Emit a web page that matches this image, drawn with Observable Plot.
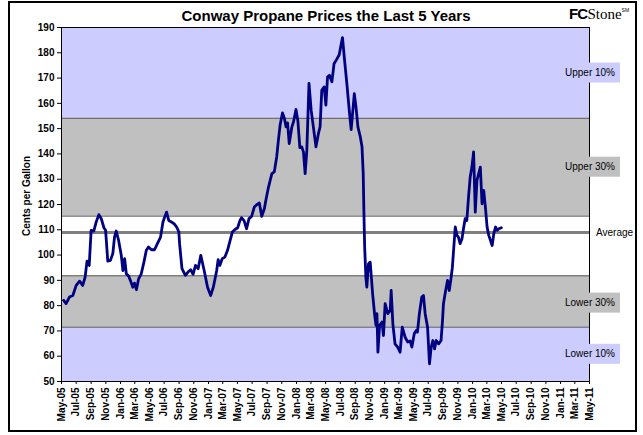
<!DOCTYPE html>
<html><head><meta charset="utf-8">
<script src="https://cdn.jsdelivr.net/npm/d3@7"></script>
<script src="https://cdn.jsdelivr.net/npm/@observablehq/plot@0.6"></script>
<style>
body{margin:0;background:#fff;}
#wrap{position:relative;width:643px;height:435px;font-family:"Liberation Sans",Arial,sans-serif;overflow:hidden;}
#border{position:absolute;left:8px;top:1px;width:629px;height:431px;border:2px solid #000;box-sizing:border-box;pointer-events:none;}
#title{position:absolute;left:326px;top:7px;transform:translateX(-50%);font-weight:bold;font-size:15px;white-space:nowrap;color:#000;}
#logo{position:absolute;left:569px;top:5px;white-space:nowrap;color:#000;font-size:15px;}
#logo .fc{font-family:"Liberation Sans",Arial,sans-serif;font-weight:bold;letter-spacing:-0.8px;}
#logo .st{font-family:"Liberation Serif","Times New Roman",serif;}
#logo sup{font-size:5px;font-family:"Liberation Sans",Arial,sans-serif;vertical-align:7px;}
#chart{position:absolute;left:0;top:0;}
</style>
</head><body>
<div id="wrap">
  <div id="chart"></div>
  <div id="title">Conway Propane Prices the Last 5 Years</div>
  <div id="logo"><span class="fc">FC</span><span class="st">Stone</span><sup>SM</sup></div>
  <div id="border"></div>
</div>
<script>
// ---- data ----
const dates = ["2005-05-10","2005-05-20","2005-06-03","2005-06-17","2005-07-01","2005-07-15","2005-07-28","2005-08-07","2005-08-15","2005-08-24",
"2005-09-01","2005-09-12","2005-09-22","2005-10-03","2005-10-13","2005-10-24","2005-10-31","2005-11-09","2005-11-20","2005-11-30",
"2005-12-07","2005-12-14","2005-12-24","2006-01-04","2006-01-11","2006-01-18","2006-01-25","2006-02-04","2006-02-12","2006-02-21",
"2006-02-28","2006-03-08","2006-03-17","2006-03-28","2006-04-08","2006-04-18","2006-04-27","2006-05-09","2006-05-22","2006-06-03",
"2006-06-16","2006-06-26","2006-07-03","2006-07-11","2006-07-20","2006-07-31","2006-08-11","2006-08-22","2006-08-31","2006-09-03",
"2006-09-13","2006-09-27","2006-10-08","2006-10-19","2006-10-29","2006-11-08","2006-11-19","2006-11-30","2006-12-14","2006-12-28",
"2007-01-10","2007-01-21","2007-02-04","2007-02-10","2007-02-17","2007-02-27","2007-03-10","2007-03-21","2007-03-31","2007-04-10",
"2007-04-21","2007-05-02","2007-05-11","2007-05-18","2007-05-29","2007-06-08","2007-06-18","2007-06-29","2007-07-10","2007-07-20",
"2007-07-31","2007-08-10","2007-08-21","2007-08-27","2007-09-07","2007-09-21","2007-10-01","2007-10-11","2007-10-18","2007-10-25",
"2007-11-04","2007-11-12","2007-11-19","2007-11-25","2007-12-02","2007-12-13","2007-12-20","2007-12-30","2008-01-07","2008-01-15",
"2008-01-23","2008-01-30","2008-02-06","2008-02-13","2008-02-22","2008-03-02","2008-03-12","2008-03-22","2008-04-01","2008-04-08",
"2008-04-15","2008-04-25","2008-05-02","2008-05-09","2008-05-17","2008-05-27","2008-06-05","2008-06-14","2008-06-26","2008-07-10",
"2008-07-18","2008-07-28","2008-08-07","2008-08-15","2008-08-28","2008-09-04","2008-09-12","2008-09-22","2008-09-29","2008-10-04",
"2008-10-07","2008-10-10","2008-10-15","2008-10-19","2008-10-26","2008-11-02","2008-11-12","2008-11-20","2008-11-26","2008-11-30",
"2008-12-04","2008-12-11","2008-12-21","2008-12-27","2009-01-03","2009-01-14","2009-01-24","2009-01-28","2009-02-04","2009-02-13",
"2009-02-24","2009-03-06","2009-03-15","2009-03-27","2009-04-07","2009-04-17","2009-04-24","2009-05-04","2009-05-12","2009-05-17",
"2009-05-25","2009-06-04","2009-06-11","2009-06-18","2009-06-28","2009-07-06","2009-07-13","2009-07-20","2009-07-27","2009-08-03",
"2009-08-13","2009-08-23","2009-08-29","2009-09-02","2009-09-10","2009-09-19","2009-09-26","2009-10-03","2009-10-09","2009-10-14",
"2009-10-21","2009-10-28","2009-11-03","2009-11-10","2009-11-18","2009-11-24","2009-12-01","2009-12-08","2009-12-15","2009-12-22",
"2009-12-29","2010-01-05","2010-01-12","2010-01-19","2010-01-26","2010-02-02","2010-02-09","2010-02-16","2010-02-23","2010-03-02",
"2010-03-09","2010-03-16","2010-03-23","2010-03-30","2010-04-06","2010-04-13","2010-04-20","2010-04-30"];
const prices = [82.1,80.8,83.4,84.0,88.0,89.7,88.0,91.3,97.6,95.9,
109.8,109.5,113.1,116.0,114.4,110.8,109.8,97.6,97.9,100.6,
107.1,109.5,105.8,99.9,93.9,98.6,92.6,91.6,89.7,87.3,
88.9,86.3,90.6,92.6,97.2,101.9,103.2,102.1,102.1,104.5,
107.1,113.1,115.0,117.0,113.7,113.1,112.4,111.1,109.1,104.5,
94.6,92.0,93.3,94.2,92.4,95.9,94.6,99.9,93.9,87.3,
84.0,87.3,93.9,98.2,95.9,98.6,99.2,101.9,105.5,109.1,
110.1,110.8,113.5,114.8,113.5,110.4,114.4,115.3,119.0,119.9,
120.6,115.3,118.4,121.7,126.9,132.2,132.9,138.8,145.4,151.3,
156.2,154.0,150.7,152.3,144.1,150.7,152.7,157.6,153.0,142.5,
142.8,140.8,132.2,141.4,167.9,157.3,150.0,142.8,148.0,150.7,
165.2,166.5,159.3,170.5,171.1,168.5,175.7,177.1,179.1,186.0,
177.7,167.9,157.3,149.6,163.8,158.6,150.7,146.7,142.8,132.2,
116.4,103.2,91.3,87.3,96.6,97.2,84.7,76.8,72.2,76.8,
61.6,72.2,73.5,68.2,80.8,76.8,78.1,86.0,72.8,64.9,
63.6,61.6,71.5,67.5,65.6,66.0,63.6,69.0,70.2,69.5,
76.8,83.4,84.0,76.8,71.5,57.0,63.6,66.2,62.9,66.2,
64.9,66.2,74.1,80.8,85.4,90.0,86.0,90.6,95.2,101.9,
111.1,107.8,107.1,104.5,106.5,110.4,114.4,113.7,122.9,130.9,
134.8,140.8,117.0,129.6,132.2,134.8,120.3,125.6,119.0,111.1,
107.8,105.8,103.8,108.5,111.1,109.8,110.4,110.8];

const bandEdges = [50, 71.5, 91.8, 115.4, 154.1, 190];
const bandFills = ["#CCCCFF", "#C0C0C0", "#FFFFFF", "#C0C0C0", "#CCCCFF"];
const averageValue = 108.9;
const labelTexts = ["Upper 10%", "Upper 30%", "Average", "Lower 30%", "Lower 10%"];
const labelValues = [172, 134.75, 108.9, 81, 60.75];
const labelFills = ["#CCCCFF", "#C0C0C0", null, "#C0C0C0", "#CCCCFF"];
const yTicks = [50,60,70,80,90,100,110,120,130,140,150,160,170,180,190];
const xStart = "2005-05-01", xEnd = "2011-05-01";

// ---- build ----
const series = dates.map((d, i) => ({date: new Date(d + "T00:00:00Z"), value: prices[i]}));
const bands = bandFills.map((f, i) => ({lo: bandEdges[i], hi: bandEdges[i + 1], fill: f}));
const x0 = new Date(xStart + "T00:00:00Z"), x1 = new Date(xEnd + "T00:00:00Z");
const xTicks = d3.utcMonth.every(2).range(x0, new Date(+x1 + 1));
const fmt = d3.utcFormat("%b-%y");

const chart = Plot.plot({
  width: 643, height: 435,
  marginLeft: 61, marginRight: 54, marginTop: 27, marginBottom: 54,
  style: {fontFamily: "'Liberation Sans', Arial, sans-serif", fontSize: "10px", background: "transparent", color: "#000"},
  x: {type: "utc", domain: [x0, x1]},
  y: {domain: [50, 190]},
  marks: [
    Plot.rect(bands, {y1: "lo", y2: "hi", fill: "fill"}),
    Plot.ruleY(bandEdges.slice(1, -1), {stroke: "#555", strokeWidth: 1}),
    Plot.ruleY([averageValue], {stroke: "#808080", strokeWidth: 3}),
    Plot.line(series, {x: "date", y: "value", stroke: "#000080", strokeWidth: 2.8, strokeLinejoin: "round"}),
    Plot.frame({stroke: "#000", strokeWidth: 1}),
    Plot.axisY({ticks: yTicks, tickSize: 4, tickPadding: 3, fontWeight: "bold", fontSize: 10, label: null}),
    Plot.axisX({ticks: xTicks, tickFormat: fmt, tickRotate: -90, tickSize: 3, tickPadding: 3, fontWeight: "bold", fontSize: 10, label: null})
  ]
});
document.getElementById("chart").appendChild(chart);

const svg = d3.select(chart);
const ys = chart.scale("y");
// y axis title
svg.append("text")
  .attr("transform", `translate(27,${(ys.apply(190) + ys.apply(50)) / 2 - 8}) rotate(-90)`)
  .attr("text-anchor", "middle").attr("dominant-baseline", "middle")
  .attr("font-weight", "bold").attr("font-size", 10)
  .attr("font-family", "'Liberation Sans', Arial, sans-serif")
  .text("Cents per Gallon");
// side labels
const g = svg.append("g").attr("font-family", "'Liberation Sans', Arial, sans-serif").attr("font-size", 10);
labelTexts.forEach((t, i) => {
  const yy = ys.apply(labelValues[i]);
  if (labelFills[i]) {
    g.append("rect").attr("x", 560).attr("y", yy - 10).attr("width", 60).attr("height", 20).attr("fill", labelFills[i]);
    g.append("text").attr("x", 590).attr("y", yy).attr("text-anchor", "middle").attr("dominant-baseline", "central").text(t);
  } else {
    g.append("text").attr("x", 596).attr("y", yy).attr("text-anchor", "start").attr("dominant-baseline", "central").text(t);
  }
});
</script>
</body></html>
